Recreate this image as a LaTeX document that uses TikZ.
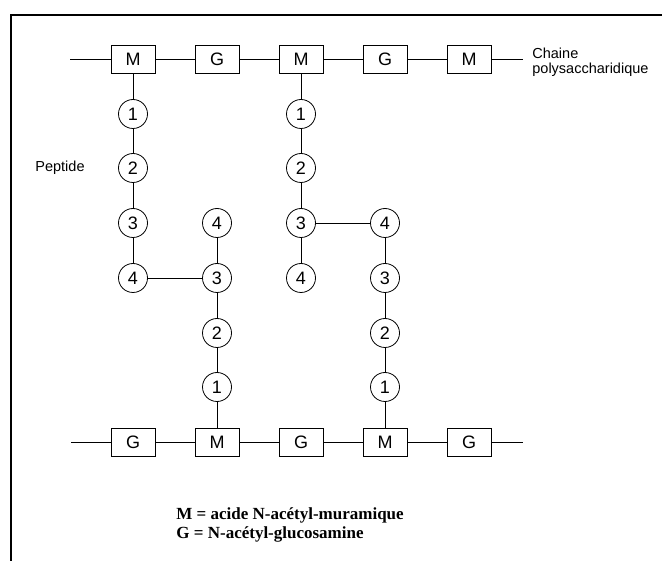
\documentclass[tikz,border=0pt]{standalone}
\usepackage{fontspec}
\setmainfont{Liberation Serif}
\setsansfont{Liberation Sans}
\usepackage{tikz}

\begin{document}
\begin{tikzpicture}[x=1pt, y=-1pt, line width=0.8pt,
    sugar/.style={rectangle, draw, minimum width=44pt, minimum height=28pt,
      inner sep=0pt, fill=white, font=\sffamily\fontsize{18}{18}\selectfont},
    residue/.style={circle, draw, minimum size=29pt, inner sep=0pt,
      fill=white, font=\sffamily\fontsize{18}{18}\selectfont},
    note/.style={font=\sffamily\fontsize{14.5}{15}\selectfont, inner sep=0pt}
    ]
    \useasboundingbox (0,0) rectangle (662,561);
    % frame
    \draw[line width=2pt] (11,561) -- (11,15) -- (662,15);

    % polysaccharide chains
    \coordinate (tL) at (70,59);
    \coordinate (tR) at (523,59);
    \coordinate (bL) at (71,442);
    \coordinate (bR) at (523,442);
    \draw (tL) -- (tR);
    \draw (bL) -- (bR);
    \node[sugar] (tM1) at (133,59) {M};
    \node[sugar] (tG1) at (217,59) {G};
    \node[sugar] (tM2) at (301,59) {M};
    \node[sugar] (tG2) at (385,59) {G};
    \node[sugar] (tM3) at (469,59) {M};
    \node[sugar] (bG1) at (133,442) {G};
    \node[sugar] (bM1) at (217,442) {M};
    \node[sugar] (bG2) at (301,442) {G};
    \node[sugar] (bM2) at (385,442) {M};
    \node[sugar] (bG3) at (469,442) {G};

    % peptides
    \node[residue] (a1) at (133,114) {1};
    \node[residue] (a2) at (133,168) {2};
    \node[residue] (a3) at (133,223) {3};
    \node[residue] (a4) at (133,278) {4};
    \node[residue] (b4) at (217,223) {4};
    \node[residue] (b3) at (217,278) {3};
    \node[residue] (b2) at (217,333) {2};
    \node[residue] (b1) at (217,387) {1};
    \node[residue] (c1) at (301,114) {1};
    \node[residue] (c2) at (301,168) {2};
    \node[residue] (c3) at (301,223) {3};
    \node[residue] (c4) at (301,278) {4};
    \node[residue] (d4) at (385,223) {4};
    \node[residue] (d3) at (385,278) {3};
    \node[residue] (d2) at (385,333) {2};
    \node[residue] (d1) at (385,387) {1};
    \draw (tM1) -- (a1) -- (a2) -- (a3) -- (a4);
    \draw (b4) -- (b3) -- (b2) -- (b1) -- (bM1);
    \draw (a4) -- (b3);
    \draw (tM2) -- (c1) -- (c2) -- (c3) -- (c4);
    \draw (d4) -- (d3) -- (d2) -- (d1) -- (bM2);
    \draw (c3) -- (d4);

    % labels
    \node[note] (peptide) at (60,168) {Peptide};
    \node[note, anchor=west, align=left] (chaine) at (532,62) {Chaine\\polysaccharidique};
    \node[anchor=west, align=left, inner sep=0pt,
      font=\bfseries\fontsize{17}{19}\selectfont] (legend) at (176,525)
      {M = acide N-acétyl-muramique\\G = N-acétyl-glucosamine};
  \end{tikzpicture}
\end{document}
